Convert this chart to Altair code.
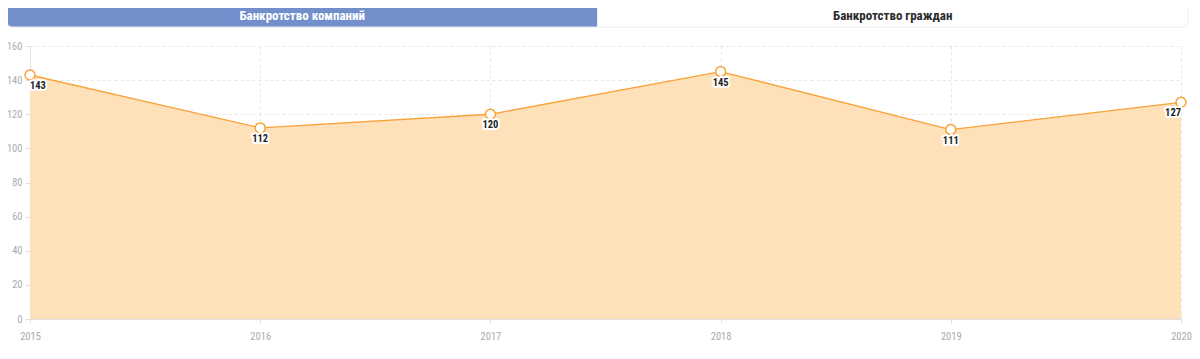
import altair as alt
import pandas as pd

years = ["2015", "2016", "2017", "2018", "2019", "2020"]
values = [143, 112, 120, 145, 111, 127]
tabs = ["Банкротство компаний", "Банкротство граждан"]
tab_active = [True, False]
y_ticks = [0, 20, 40, 60, 80, 100, 120, 140, 160]

FONT = "Roboto Condensed, Liberation Sans Narrow, DejaVu Sans Condensed, Roboto"
ORANGE = "#F8A23A"
FILL = "#FEE1B9"
GRID = "#E6E6E6"
LABEL = "#ABABAB"

df = pd.DataFrame({"year": years, "value": values})
tab_df = pd.DataFrame({"tab": tabs, "active": tab_active})

# ---------- tabs ----------
tx = alt.X("tab:N", sort=tabs, scale=alt.Scale(paddingInner=0, paddingOuter=0, range=[-23, 1158]), axis=None)
tab_base = alt.Chart(tab_df)
fill_scale = alt.Scale(domain=[True, False], range=["#738FCB", "#FFFFFF"])
tab_left = tab_base.transform_filter(alt.datum.tab == tabs[0]).mark_rect(
    cornerRadiusTopLeft=5, cornerRadiusBottomLeft=5, stroke="#E8E8E8", strokeWidth=1
).encode(x=tx, color=alt.Color("active:N", scale=fill_scale, legend=None))
tab_right = tab_base.transform_filter(alt.datum.tab == tabs[1]).mark_rect(
    cornerRadiusTopRight=5, cornerRadiusBottomRight=5, stroke="#EEEEEE", strokeWidth=1
).encode(x=tx, color=alt.Color("active:N", scale=fill_scale, legend=None))
tab_text = tab_base.mark_text(font=FONT, fontSize=13, fontWeight="bold").encode(
    x=tx,
    text="tab:N",
    color=alt.Color("active:N", scale=alt.Scale(domain=[True, False], range=["#FFFFFF", "#2B2B2B"]), legend=None),
)
tabs_chart = alt.layer(tab_left, tab_right, tab_text).properties(width=1151, height=22).resolve_scale(color="independent")

# ---------- line/area chart ----------
x = alt.X(
    "year:O",
    sort=years,
    scale=alt.Scale(type="point", padding=0),
    axis=alt.Axis(
        title=None, labelAngle=0, grid=True, gridDash=[3, 3], gridColor=GRID,
        tickColor="#E0E0E0", domainColor="#E0E0E0", labelColor=LABEL, labelFontSize=10.5,
        labelFont=FONT, labelPadding=8, tickSize=4,
    ),
)
y = alt.Y(
    "value:Q",
    scale=alt.Scale(domain=[0, 160]),
    axis=alt.Axis(
        title=None, values=y_ticks, grid=True, gridDash=[3, 3], gridColor=GRID,
        tickColor="#E0E0E0", domainColor="#E0E0E0", labelColor=LABEL, labelFontSize=10.5,
        labelFont=FONT, labelPadding=3, tickSize=5,
    ),
)

base = alt.Chart(df)
area = base.mark_area(color=FILL, opacity=1).encode(x=x, y=y)
line = base.mark_line(color=ORANGE, strokeWidth=1.3).encode(x=x, y=y)
pts = base.mark_point(filled=True, fill="white", stroke=ORANGE, strokeWidth=1.5, size=100, opacity=1).encode(x=x, y=y)

def labels(filt, align):
    b = base.transform_filter(filt)
    halo = b.mark_text(font=FONT, fontSize=10.5, fontWeight="bold", dy=11, align=align,
                       stroke="white", strokeWidth=4, strokeJoin="round", fill="white").encode(x=x, y=y, text="value:Q")
    txt = b.mark_text(font=FONT, fontSize=10.5, fontWeight="bold", dy=11, align=align,
                      color="#1E1E1E").encode(x=x, y=y, text="value:Q")
    return [halo, txt]

lab = []
lab += labels(alt.datum.year == years[0], "left")
lab += labels((alt.datum.year != years[0]) & (alt.datum.year != years[-1]), "center")
lab += labels(alt.datum.year == years[-1], "right")

main = alt.layer(area, line, pts, *lab).properties(width=1151, height=273)

chart = alt.vconcat(tabs_chart, main, spacing=13).properties(
    padding={"left": -2, "top": -4, "right": 0, "bottom": 0}
).configure_view(stroke=None)

chart.save("out.html", embed_options={"renderer": "svg", "actions": False})
